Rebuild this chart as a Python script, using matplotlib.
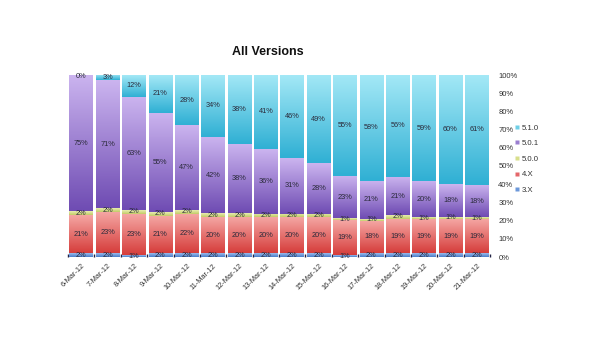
import numpy as np
import matplotlib
matplotlib.use("Agg")
import matplotlib.pyplot as plt
from matplotlib.colors import LinearSegmentedColormap
from matplotlib.lines import Line2D

plt.rcParams['font.family'] = ['Liberation Sans', 'DejaVu Sans']

dates = ["6-Mar-12", "7-Mar-12", "8-Mar-12", "9-Mar-12", "10-Mar-12", "11-Mar-12",
         "12-Mar-12", "13-Mar-12", "14-Mar-12", "15-Mar-12", "16-Mar-12", "17-Mar-12",
         "18-Mar-12", "19-Mar-12", "20-Mar-12", "21-Mar-12"]
v3x  = [2, 2, 1, 2, 2, 2, 2, 2, 2, 2, 1, 2, 2, 2, 2, 2]
v4x  = [21, 23, 23, 21, 22, 20, 20, 20, 20, 20, 19, 18, 19, 19, 19, 19]
v500 = [2, 2, 2, 2, 2, 2, 2, 2, 2, 2, 1, 1, 2, 1, 1, 1]
v501 = [75, 71, 63, 55, 47, 42, 38, 36, 31, 28, 23, 21, 21, 20, 18, 18]
v510 = [0, 3, 12, 21, 28, 34, 38, 41, 46, 49, 55, 58, 56, 59, 60, 61]
series_names = ["3.X", "4.X", "5.0.0", "5.0.1", "5.1.0"]
yticks = [0, 10, 20, 30, 40, 50, 60, 70, 80, 90, 100]

series = [v3x, v4x, v500, v501, v510]
grads = [("#4a7cc8", "#9bbcec"),
         ("#d63e3c", "#f5a8a5"),
         ("#c2cb66", "#e8edb0"),
         ("#6f4cb3", "#cbb4ef"),
         ("#30b0d4", "#a3e8f6")]
legend_cols = ["#6c98da", "#e4676a", "#d8df8c", "#9a7ed0", "#6fcfe6"]

fig = plt.figure(figsize=(6, 3.4), dpi=100)
ax = fig.add_axes([68/600, 1-257/340, (490-68)/600, (257-75)/340])

data = np.array(series, dtype=float)
totals = data.sum(axis=0)
pct = data / totals * 100
x = np.arange(len(dates))
bottom = np.zeros(len(dates))
for i, name in enumerate(series_names):
    bars = ax.bar(x, pct[i], bottom=bottom, width=0.89, color=legend_cols[i],
                  edgecolor='none', zorder=1)
    cmap = LinearSegmentedColormap.from_list("g%d" % i, list(grads[i]))
    grad = np.linspace(0, 1, 64).reshape(-1, 1)
    for p, val in zip(bars.patches, series[i]):
        x0, y0, w, h = p.get_x(), p.get_y(), p.get_width(), p.get_height()
        if h > 0:
            ax.imshow(grad, extent=[x0, x0 + w, y0, y0 + h], origin='lower',
                      aspect='auto', cmap=cmap, zorder=2, interpolation='bilinear')
        yy = y0 + h/2 if h > 0 else y0 - 1
        ax.text(x0 + w/2, yy, "%d%%" % val, ha='center', va='center',
                fontsize=5.3, color='#2a2a3a', zorder=3)
    bottom = bottom + pct[i]

ax.set_xlim(-0.5, len(dates) - 0.5)
ax.set_ylim(0, 100)
ax.yaxis.tick_right()
ax.set_yticks(yticks)
ax.set_yticklabels(["%d%%" % t for t in yticks], fontsize=5.5, color='#333333')
ax.tick_params(axis='y', length=0, pad=6)
ax.set_xticks(x)
ax.set_xticklabels(dates, rotation=45, ha='right', rotation_mode='anchor',
                   fontsize=5.3, color='#333333')
ax.tick_params(axis='x', length=0, pad=4)
ax.set_xticks(np.arange(len(dates) + 1) - 0.5, minor=True)
ax.tick_params(axis='x', which='minor', length=2, width=1, color='#222244', direction='in')
for s in ax.spines.values():
    s.set_visible(False)

fig.text(268/600, 1-52/340, "All Versions", ha='center', va='center',
         fontsize=9, fontweight='bold', color='#111111')

handles = [Line2D([], [], marker='s', linestyle='none', markersize=2.5,
                  markerfacecolor=legend_cols[i], markeredgecolor='none')
           for i in range(len(series_names))][::-1]
leg = fig.legend(handles, series_names[::-1], loc='upper left',
                 bbox_to_anchor=(512/600, 1-121/340), frameon=False,
                 fontsize=5.6, handlelength=0.6, handletextpad=0.3,
                 labelspacing=1.05, borderaxespad=0)
for t in leg.get_texts():
    t.set_color('#333333')

fig.savefig("out.png", dpi=100, facecolor='white')
